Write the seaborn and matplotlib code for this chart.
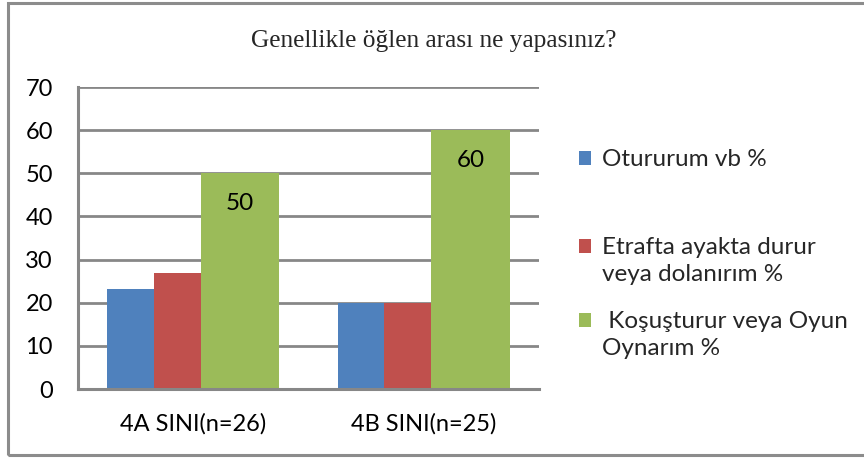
import matplotlib
matplotlib.use("Agg")
import matplotlib.pyplot as plt
import seaborn as sns
import pandas as pd
from matplotlib.patches import Patch, Rectangle
from matplotlib.legend_handler import HandlerPatch

# ---- data ----
classes = ["4A SINI(n=26)", "4B SINI(n=25)"]
series = ["Otururum vb %", "Etrafta ayakta durur\nveya dolanırım %", " Koşuşturur veya Oyun\nOynarım %"]
oturur = [23.1, 20]
etrafta = [27, 20]
kosustur = [50, 60]
title = "Genellikle öğlen arası ne yapasınız?"
yticks = [0, 10, 20, 30, 40, 50, 60, 70]

colors = ["#4F81BD", "#C0504D", "#9BBB59"]
bar_widths = [0.203, 0.203, 0.341]

df = pd.DataFrame({
    "sinif": classes * 3,
    "seri": [series[0]] * 2 + [series[1]] * 2 + [series[2]] * 2,
    "deger": oturur + etrafta + kosustur,
})

sns.set_theme(style="white")
plt.rcParams["font.family"] = ["Lato", "DejaVu Sans"]

fig = plt.figure(figsize=(8.64, 4.58), dpi=100)
ax = fig.add_axes([78 / 864, 69 / 458, (539 - 78) / 864, (389 - 87) / 458])

sns.barplot(data=df, x="sinif", y="deger", hue="seri", hue_order=series,
            order=classes, palette=colors, ax=ax, legend=False,
            saturation=1, width=0.75, edgecolor="none", linewidth=0)

# re-apply bar widths (green bars wider, as in the original)
for i in range(len(classes)):
    total = sum(bar_widths)
    left = i - total / 2
    for h, cont in enumerate(ax.containers):
        bar = cont[i]
        bar.set_x(left)
        bar.set_width(bar_widths[h])
        left += bar_widths[h]

ax.set_ylim(0, 70)
ax.set_yticks(yticks)
ax.set_xlim(-0.5, 1.5)
ax.set_xlabel("")
ax.set_ylabel("")
grid_c = "#878787"
ax.yaxis.grid(True, color=grid_c, linewidth=2)
ax.set_axisbelow(True)
for s in ["top", "right"]:
    ax.spines[s].set_visible(False)
for s in ["left", "bottom"]:
    ax.spines[s].set_color(grid_c)
    ax.spines[s].set_linewidth(2.2)
ax.tick_params(axis="both", length=0, labelsize=17, labelcolor="black")
ax.tick_params(axis="y", pad=18)
ax.tick_params(axis="x", pad=17)

# value labels for green bars
for bar, v in zip(ax.containers[2], kosustur):
    ax.annotate(f"{v:g}", xy=(bar.get_x() + bar.get_width() / 2, bar.get_height()),
                xytext=(0, -22), textcoords="offset points", ha="center", va="center",
                fontsize=17.5, color="black")


# legend: square marker aligned with the first line of each label
class TopHandler(HandlerPatch):
    def __init__(self, nlines, **kw):
        super().__init__(**kw)
        self.nlines = nlines

    def create_artists(self, legend, orig_handle, xdescent, ydescent, width, height,
                       fontsize, trans):
        shift = (self.nlines - 1) * 0.6 * fontsize
        p = Rectangle((-xdescent, -ydescent + shift), width, height,
                      facecolor=orig_handle.get_facecolor(), edgecolor="none",
                      transform=trans)
        return [p]


handles = [Patch(facecolor=c, edgecolor="none") for c in colors]
common = dict(frameon=False, fontsize=17.5, handlelength=0.5, handleheight=0.5,
              handletextpad=0.45, borderpad=0, borderaxespad=0)
leg1 = fig.legend(handles[:1], series[:1], loc="center left",
                  bbox_to_anchor=(579 / 864, 1 - 160 / 458),
                  handler_map={handles[0]: TopHandler(1)}, labelspacing=0, **common)
leg2 = fig.legend(handles[1:], series[1:], loc="center left",
                  bbox_to_anchor=(579 / 864, 1 - 298 / 458),
                  handler_map={handles[1]: TopHandler(2), handles[2]: TopHandler(2)},
                  labelspacing=1.05, **common)
for t in leg2.get_texts():
    t.set_linespacing(1.38)

fig.suptitle(title, x=434 / 864, y=1 - 41 / 458, va="center",
             fontsize=18.3, family="Liberation Serif")

# outer frame
fig.patches.append(Rectangle((8 / 864, 3 / 458), 1.0, 452.5 / 458, transform=fig.transFigure,
                             fill=False, edgecolor="#8c8c8c", linewidth=2.2))

fig.savefig("out.png", dpi=100)
